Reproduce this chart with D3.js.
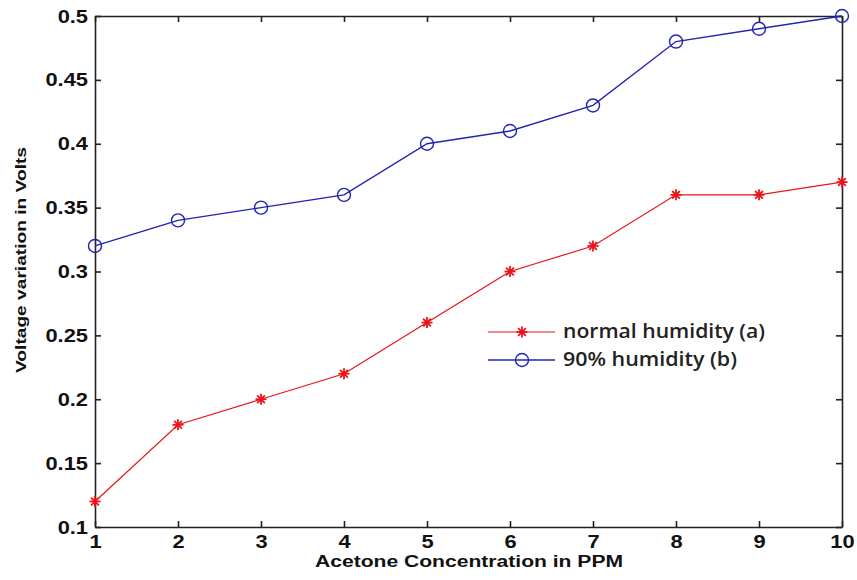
<!doctype html>
<html lang="en">
<head>
  <meta charset="UTF-8">
  <title>Voltage variation vs acetone concentration</title>
  <script src="https://cdn.jsdelivr.net/npm/d3@7/dist/d3.min.js"></script>
  <style>
    body { margin: 0; background: #fff; }
    .tick text { font-family: Arial, "Liberation Sans", sans-serif; font-weight: bold; font-size: 19px; }
  </style>
</head>
<body>
  <svg id="chart" width="857" height="580"></svg>
  <script>
    let ppm = [1, 2, 3, 4, 5, 6, 7, 8, 9, 10]
    let normalHumidity = [0.12, 0.18, 0.20, 0.22, 0.26, 0.30, 0.32, 0.36, 0.36, 0.37]
    let highHumidity = [0.32, 0.34, 0.35, 0.36, 0.40, 0.41, 0.43, 0.48, 0.49, 0.50]
    let yTicks = [0.1, 0.15, 0.2, 0.25, 0.3, 0.35, 0.4, 0.45, 0.5]
    let seriesNames = ['normal humidity (a)', '90% humidity (b)']

    let svg = d3.select('#chart')
    let plotLeft = 95, plotRight = 842, plotTop = 16, plotBottom = 527

    let x = d3.scaleLinear().domain([1, 10]).range([plotLeft, plotRight])
    let y = d3.scaleLinear().domain([0.1, 0.5]).range([plotBottom, plotTop])

    // axes, MATLAB style: ticks pointing inward on all four sides
    svg.append('g').attr('transform', `translate(0,${plotBottom})`)
      .call(d3.axisBottom(x).tickValues(ppm).tickFormat(d3.format('d')).tickSizeInner(-6).tickSizeOuter(0).tickPadding(8))
    svg.append('g').attr('transform', `translate(0,${plotTop})`)
      .call(d3.axisTop(x).tickValues(ppm).tickFormat('').tickSizeInner(-6).tickSizeOuter(0))
    svg.append('g').attr('transform', `translate(${plotLeft},0)`)
      .call(d3.axisLeft(y).tickValues(yTicks).tickFormat(d => String(+d.toFixed(2))).tickSizeInner(-6).tickSizeOuter(0).tickPadding(7))
    svg.append('g').attr('transform', `translate(${plotRight},0)`)
      .call(d3.axisRight(y).tickValues(yTicks).tickFormat('').tickSizeInner(-6).tickSizeOuter(0))
    svg.selectAll('.domain, .tick line').attr('stroke', '#222').attr('stroke-width', 1.6)
    // the original print is stretched a little sideways
    svg.selectAll('.tick text').attr('fill', '#111')
      .each(function () {
        let w = this.getComputedTextLength()
        if (w > 0) d3.select(this).attr('textLength', w * 1.15).attr('lengthAdjust', 'spacingAndGlyphs')
      })

    let line = d3.line().x((d, i) => x(ppm[i])).y(d => y(d))

    function star(g, size) {
      g.append('line').attr('x1', -size).attr('x2', size).attr('y1', 0).attr('y2', 0)
      g.append('line').attr('x1', 0).attr('x2', 0).attr('y1', -size).attr('y2', size)
      g.append('line').attr('x1', -size * 0.7).attr('x2', size * 0.7).attr('y1', -size * 0.7).attr('y2', size * 0.7)
      g.append('line').attr('x1', -size * 0.7).attr('x2', size * 0.7).attr('y1', size * 0.7).attr('y2', -size * 0.7)
    }

    // normal humidity
    svg.append('path').datum(normalHumidity).attr('d', line)
      .attr('fill', 'none').attr('stroke', '#e8141a').attr('stroke-width', 1.2)
    svg.selectAll('.star').data(normalHumidity).enter().append('g')
      .attr('class', 'star')
      .attr('transform', (d, i) => `translate(${x(ppm[i])},${y(d)})`)
      .attr('stroke', '#e8141a').attr('stroke-width', 1.8)
      .each(function () { star(d3.select(this), 5.5) })

    // 90% humidity
    svg.append('path').datum(highHumidity).attr('d', line)
      .attr('fill', 'none').attr('stroke', '#2323b4').attr('stroke-width', 1.4)
    svg.selectAll('.ring').data(highHumidity).enter().append('circle')
      .attr('class', 'ring')
      .attr('cx', (d, i) => x(ppm[i])).attr('cy', d => y(d)).attr('r', 6.5)
      .attr('fill', 'none').attr('stroke', '#2323b4').attr('stroke-width', 1.4)

    // legend
    let legend = svg.append('g').attr('transform', 'translate(488,332)')
    legend.append('line').attr('x1', 0).attr('x2', 67).attr('y1', 0).attr('y2', 0)
      .attr('stroke', '#e8141a').attr('stroke-width', 1.2)
    let ls = legend.append('g').attr('transform', 'translate(34,0)')
      .attr('stroke', '#e8141a').attr('stroke-width', 1.8)
    star(ls, 5.5)
    legend.append('line').attr('x1', 0).attr('x2', 67).attr('y1', 28).attr('y2', 28)
      .attr('stroke', '#2323b4').attr('stroke-width', 1.4)
    legend.append('circle').attr('cx', 34).attr('cy', 28).attr('r', 6.5)
      .attr('fill', 'none').attr('stroke', '#2323b4').attr('stroke-width', 1.4)
    let legendWidths = [202, 174]
    legend.selectAll('text').data(seriesNames).enter().append('text')
      .attr('x', 75).attr('y', (d, i) => i * 28 + 6)
      .attr('font-family', '"Open Sans", sans-serif').attr('font-size', 20).attr('font-weight', 600)
      .attr('textLength', (d, i) => legendWidths[i]).attr('lengthAdjust', 'spacingAndGlyphs')
      .attr('fill', '#222').text(d => d)

    // axis titles
    svg.append('text').attr('x', 315).attr('y', 567)
      .attr('font-family', 'Arial, sans-serif')
      .attr('font-weight', 'bold').attr('font-size', 16).attr('fill', '#111')
      .attr('textLength', 308).attr('lengthAdjust', 'spacingAndGlyphs')
      .text('Acetone Concentration in PPM')
    svg.append('text').attr('transform', 'translate(26,373) rotate(-90)')
      .attr('font-family', 'Arial, sans-serif')
      .attr('font-weight', 'bold').attr('font-size', 15).attr('fill', '#111')
      .attr('textLength', 226).attr('lengthAdjust', 'spacingAndGlyphs')
      .text('Voltage variation in Volts')
  </script>
</body>
</html>
